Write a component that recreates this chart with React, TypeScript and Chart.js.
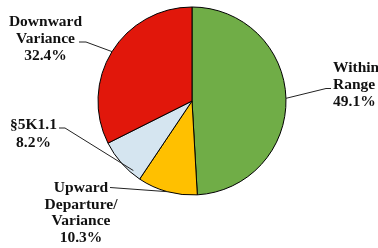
import React, { useEffect, useRef } from "react";
import { Chart, registerables } from "chart.js";

Chart.register(...registerables);

const categories = ["Within Range", "Upward Departure/Variance", "§5K1.1", "Downward Variance"];
const values = [49.1, 10.3, 8.2, 32.4];
const nameLines = [["Within", "Range"], ["Upward", "Departure/", "Variance"], ["§5K1.1"], ["Downward", "Variance"]];
const colors = ["#70AD47", "#FFC000", "#D5E5F0", "#E1170B"];

type LabelLayout = {
  x: number;
  align: CanvasTextAlign;
  baselines: number[];
  elbow: [number, number][];
  extend: number;
};

const labelLayout: LabelLayout[] = [
  { x: 333, align: "left", baselines: [71.5, 88.5, 105.5], elbow: [[331, 88.5], [326, 88.5]], extend: 0 },
  { x: 81, align: "center", baselines: [192, 208.5, 225, 241.5], elbow: [[110, 187.5]], extend: 0 },
  { x: 33.5, align: "center", baselines: [129, 146.5], elbow: [[59, 128], [65, 128]], extend: 14 },
  { x: 45.5, align: "center", baselines: [26, 42.8, 59.6], elbow: [[79, 42], [86, 42]], extend: 0 },
];

const labelPlugin = {
  id: "pieLabels",
  afterDatasetsDraw(chart: any) {
    const ctx = chart.ctx as CanvasRenderingContext2D;
    const meta = chart.getDatasetMeta(0);
    ctx.save();
    ctx.fillStyle = "#111";
    ctx.strokeStyle = "#222";
    ctx.lineWidth = 1;
    ctx.font = "bold 15.5px 'Liberation Serif', 'Times New Roman', serif";
    meta.data.forEach((arc: any, i: number) => {
      const lay = labelLayout[i];
      const mid = (arc.startAngle + arc.endAngle) / 2;
      const ex = arc.x + Math.cos(mid) * arc.outerRadius;
      const ey = arc.y + Math.sin(mid) * arc.outerRadius;
      const pts = lay.elbow;
      ctx.beginPath();
      ctx.moveTo(pts[0][0], pts[0][1]);
      for (let k = 1; k < pts.length; k++) ctx.lineTo(pts[k][0], pts[k][1]);
      const last = pts[pts.length - 1];
      let tx = ex;
      let ty = ey;
      if (lay.extend > 0) {
        const dx = ex - last[0];
        const dy = ey - last[1];
        const len = Math.hypot(dx, dy);
        tx = ex + (dx / len) * lay.extend;
        ty = ey + (dy / len) * lay.extend;
      }
      ctx.lineTo(tx, ty);
      ctx.stroke();
      const lines = [...nameLines[i], `${values[i].toFixed(1)}%`];
      ctx.textAlign = lay.align;
      ctx.textBaseline = "alphabetic";
      lines.forEach((t, j) => ctx.fillText(t, lay.x, lay.baselines[j]));
    });
    ctx.restore();
  },
};

export default function App() {
  const ref = useRef<HTMLCanvasElement | null>(null);
  useEffect(() => {
    if (!ref.current) return;
    const chart = new Chart(ref.current, {
      type: "pie",
      data: {
        labels: categories,
        datasets: [
          {
            data: values,
            backgroundColor: colors,
            borderColor: "#000",
            borderWidth: 1,
            hoverOffset: 0,
          },
        ],
      },
      options: {
        animation: false,
        responsive: true,
        maintainAspectRatio: false,
        events: [],
        radius: 94,
        layout: { padding: { left: 10, right: 4, top: 0, bottom: 46 } },
        plugins: { legend: { display: false }, tooltip: { enabled: false } },
      } as any,
      plugins: [labelPlugin],
    });
    return () => chart.destroy();
  }, []);
  return (
    <div style={{ position: "absolute", left: 0, top: 0, width: 378, height: 248, background: "#fff" }}>
      <canvas ref={ref} />
    </div>
  );
}
